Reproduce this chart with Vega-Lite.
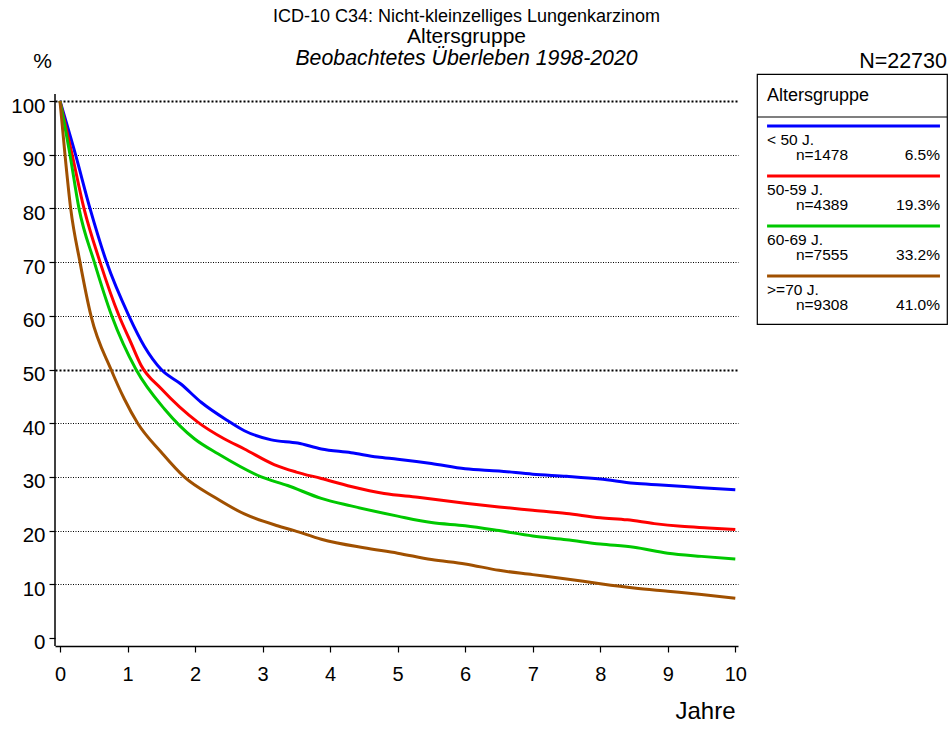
{
  "$schema": "https://vega.github.io/schema/vega-lite/v6.json",
  "background": "white",
  "padding": {"left": 10, "top": 7, "right": 3, "bottom": 5},
  "title": {
    "text": "ICD-10 C34: Nicht-kleinzelliges Lungenkarzinom",
    "subtitle": "Altersgruppe",
    "fontSize": 18,
    "subtitleFontSize": 21,
    "fontWeight": "normal",
    "color": "black",
    "subtitleColor": "black",
    "subtitlePadding": 0,
    "anchor": "middle",
    "dx": -13,
    "offset": 1
  },
  "spacing": 19,
  "bounds": "flush",
  "resolve": {"scale": {"x": "independent", "y": "independent", "color": "independent"}},
  "hconcat": [
    {
      "width": 683,
      "height": 572,
      "title": {
        "text": "Beobachtetes Überleben 1998-2020",
        "fontStyle": "italic",
        "fontSize": 21.3,
        "fontWeight": "normal",
        "color": "black",
        "anchor": "middle",
        "frame": "group",
        "dx": 70,
        "offset": -19
      },
      "layer": [
        {
          "data": {"values": [{"Jahre": 10, "Ueberleben": 0}]},
          "mark": {"type": "rule", "color": "black", "strokeWidth": 1.5},
          "encoding": {
            "x": {"datum": -0.074, "type": "quantitative"},
            "y": {"datum": -1.49, "type": "quantitative"},
            "y2": {"datum": 101.3}
          }
        },
        {
          "data": {
            "values": [
              {"Gruppe": "< 50 J.", "Jahre": 0, "Ueberleben": 100},
              {"Gruppe": "< 50 J.", "Jahre": 0.23, "Ueberleben": 90},
              {"Gruppe": "< 50 J.", "Jahre": 0.444, "Ueberleben": 80},
              {"Gruppe": "< 50 J.", "Jahre": 0.69, "Ueberleben": 70},
              {"Gruppe": "< 50 J.", "Jahre": 1.02, "Ueberleben": 60},
              {"Gruppe": "< 50 J.", "Jahre": 1.25, "Ueberleben": 54.3},
              {"Gruppe": "< 50 J.", "Jahre": 1.5, "Ueberleben": 50},
              {"Gruppe": "< 50 J.", "Jahre": 1.79, "Ueberleben": 47.3},
              {"Gruppe": "< 50 J.", "Jahre": 2.09, "Ueberleben": 43.9},
              {"Gruppe": "< 50 J.", "Jahre": 2.48, "Ueberleben": 40.5},
              {"Gruppe": "< 50 J.", "Jahre": 2.73, "Ueberleben": 38.6},
              {"Gruppe": "< 50 J.", "Jahre": 3.13, "Ueberleben": 36.9},
              {"Gruppe": "< 50 J.", "Jahre": 3.52, "Ueberleben": 36.3},
              {"Gruppe": "< 50 J.", "Jahre": 3.87, "Ueberleben": 35.2},
              {"Gruppe": "< 50 J.", "Jahre": 4.31, "Ueberleben": 34.5},
              {"Gruppe": "< 50 J.", "Jahre": 4.7, "Ueberleben": 33.7},
              {"Gruppe": "< 50 J.", "Jahre": 5.0, "Ueberleben": 33.3},
              {"Gruppe": "< 50 J.", "Jahre": 5.5, "Ueberleben": 32.5},
              {"Gruppe": "< 50 J.", "Jahre": 6.0, "Ueberleben": 31.5},
              {"Gruppe": "< 50 J.", "Jahre": 6.5, "Ueberleben": 31.1},
              {"Gruppe": "< 50 J.", "Jahre": 7.0, "Ueberleben": 30.5},
              {"Gruppe": "< 50 J.", "Jahre": 7.5, "Ueberleben": 30.1},
              {"Gruppe": "< 50 J.", "Jahre": 8.0, "Ueberleben": 29.6},
              {"Gruppe": "< 50 J.", "Jahre": 8.5, "Ueberleben": 28.8},
              {"Gruppe": "< 50 J.", "Jahre": 8.9, "Ueberleben": 28.5},
              {"Gruppe": "< 50 J.", "Jahre": 9.5, "Ueberleben": 28.0},
              {"Gruppe": "< 50 J.", "Jahre": 10, "Ueberleben": 27.6},
              {"Gruppe": "50-59 J.", "Jahre": 0, "Ueberleben": 100},
              {"Gruppe": "50-59 J.", "Jahre": 0.18, "Ueberleben": 90},
              {"Gruppe": "50-59 J.", "Jahre": 0.355, "Ueberleben": 80},
              {"Gruppe": "50-59 J.", "Jahre": 0.593, "Ueberleben": 70},
              {"Gruppe": "50-59 J.", "Jahre": 0.874, "Ueberleben": 60},
              {"Gruppe": "50-59 J.", "Jahre": 1.05, "Ueberleben": 55},
              {"Gruppe": "50-59 J.", "Jahre": 1.2, "Ueberleben": 50.8},
              {"Gruppe": "50-59 J.", "Jahre": 1.5, "Ueberleben": 46.4},
              {"Gruppe": "50-59 J.", "Jahre": 2.04, "Ueberleben": 40.2},
              {"Gruppe": "50-59 J.", "Jahre": 2.43, "Ueberleben": 37.1},
              {"Gruppe": "50-59 J.", "Jahre": 2.73, "Ueberleben": 35.2},
              {"Gruppe": "50-59 J.", "Jahre": 3.17, "Ueberleben": 32.3},
              {"Gruppe": "50-59 J.", "Jahre": 3.5, "Ueberleben": 30.9},
              {"Gruppe": "50-59 J.", "Jahre": 3.87, "Ueberleben": 29.7},
              {"Gruppe": "50-59 J.", "Jahre": 4.31, "Ueberleben": 28.2},
              {"Gruppe": "50-59 J.", "Jahre": 4.8, "Ueberleben": 26.9},
              {"Gruppe": "50-59 J.", "Jahre": 5.3, "Ueberleben": 26.2},
              {"Gruppe": "50-59 J.", "Jahre": 6.0, "Ueberleben": 25.1},
              {"Gruppe": "50-59 J.", "Jahre": 6.5, "Ueberleben": 24.4},
              {"Gruppe": "50-59 J.", "Jahre": 7.0, "Ueberleben": 23.8},
              {"Gruppe": "50-59 J.", "Jahre": 7.5, "Ueberleben": 23.2},
              {"Gruppe": "50-59 J.", "Jahre": 8.0, "Ueberleben": 22.4},
              {"Gruppe": "50-59 J.", "Jahre": 8.4, "Ueberleben": 22.0},
              {"Gruppe": "50-59 J.", "Jahre": 8.8, "Ueberleben": 21.3},
              {"Gruppe": "50-59 J.", "Jahre": 9.2, "Ueberleben": 20.8},
              {"Gruppe": "50-59 J.", "Jahre": 9.6, "Ueberleben": 20.5},
              {"Gruppe": "50-59 J.", "Jahre": 10, "Ueberleben": 20.2},
              {"Gruppe": "60-69 J.", "Jahre": 0, "Ueberleben": 100},
              {"Gruppe": "60-69 J.", "Jahre": 0.148, "Ueberleben": 90},
              {"Gruppe": "60-69 J.", "Jahre": 0.281, "Ueberleben": 80},
              {"Gruppe": "60-69 J.", "Jahre": 0.508, "Ueberleben": 70},
              {"Gruppe": "60-69 J.", "Jahre": 0.766, "Ueberleben": 60},
              {"Gruppe": "60-69 J.", "Jahre": 1.126, "Ueberleben": 50},
              {"Gruppe": "60-69 J.", "Jahre": 1.55, "Ueberleben": 42.6},
              {"Gruppe": "60-69 J.", "Jahre": 1.99, "Ueberleben": 37.1},
              {"Gruppe": "60-69 J.", "Jahre": 2.34, "Ueberleben": 34.3},
              {"Gruppe": "60-69 J.", "Jahre": 2.98, "Ueberleben": 30},
              {"Gruppe": "60-69 J.", "Jahre": 3.37, "Ueberleben": 28.4},
              {"Gruppe": "60-69 J.", "Jahre": 3.87, "Ueberleben": 26.0},
              {"Gruppe": "60-69 J.", "Jahre": 4.31, "Ueberleben": 24.6},
              {"Gruppe": "60-69 J.", "Jahre": 5.0, "Ueberleben": 22.7},
              {"Gruppe": "60-69 J.", "Jahre": 5.5, "Ueberleben": 21.5},
              {"Gruppe": "60-69 J.", "Jahre": 6.0, "Ueberleben": 20.9},
              {"Gruppe": "60-69 J.", "Jahre": 6.5, "Ueberleben": 20.0},
              {"Gruppe": "60-69 J.", "Jahre": 7.0, "Ueberleben": 19.0},
              {"Gruppe": "60-69 J.", "Jahre": 7.5, "Ueberleben": 18.3},
              {"Gruppe": "60-69 J.", "Jahre": 8.0, "Ueberleben": 17.5},
              {"Gruppe": "60-69 J.", "Jahre": 8.5, "Ueberleben": 16.9},
              {"Gruppe": "60-69 J.", "Jahre": 9.0, "Ueberleben": 15.8},
              {"Gruppe": "60-69 J.", "Jahre": 9.5, "Ueberleben": 15.2},
              {"Gruppe": "60-69 J.", "Jahre": 10, "Ueberleben": 14.7},
              {"Gruppe": ">=70 J.", "Jahre": 0, "Ueberleben": 100},
              {"Gruppe": ">=70 J.", "Jahre": 0.074, "Ueberleben": 90},
              {"Gruppe": ">=70 J.", "Jahre": 0.158, "Ueberleben": 80},
              {"Gruppe": ">=70 J.", "Jahre": 0.296, "Ueberleben": 70},
              {"Gruppe": ">=70 J.", "Jahre": 0.459, "Ueberleben": 60},
              {"Gruppe": ">=70 J.", "Jahre": 0.756, "Ueberleben": 50},
              {"Gruppe": ">=70 J.", "Jahre": 0.953, "Ueberleben": 44.5},
              {"Gruppe": ">=70 J.", "Jahre": 1.15, "Ueberleben": 40},
              {"Gruppe": ">=70 J.", "Jahre": 1.5, "Ueberleben": 34.6},
              {"Gruppe": ">=70 J.", "Jahre": 1.84, "Ueberleben": 30},
              {"Gruppe": ">=70 J.", "Jahre": 2.29, "Ueberleben": 26.2},
              {"Gruppe": ">=70 J.", "Jahre": 2.73, "Ueberleben": 23.1},
              {"Gruppe": ">=70 J.", "Jahre": 3.22, "Ueberleben": 20.9},
              {"Gruppe": ">=70 J.", "Jahre": 3.47, "Ueberleben": 20},
              {"Gruppe": ">=70 J.", "Jahre": 3.87, "Ueberleben": 18.4},
              {"Gruppe": ">=70 J.", "Jahre": 4.5, "Ueberleben": 16.8},
              {"Gruppe": ">=70 J.", "Jahre": 5.0, "Ueberleben": 15.8},
              {"Gruppe": ">=70 J.", "Jahre": 5.5, "Ueberleben": 14.6},
              {"Gruppe": ">=70 J.", "Jahre": 6.0, "Ueberleben": 13.8},
              {"Gruppe": ">=70 J.", "Jahre": 6.5, "Ueberleben": 12.6},
              {"Gruppe": ">=70 J.", "Jahre": 7.0, "Ueberleben": 11.8},
              {"Gruppe": ">=70 J.", "Jahre": 7.5, "Ueberleben": 11.0},
              {"Gruppe": ">=70 J.", "Jahre": 8.0, "Ueberleben": 10.1},
              {"Gruppe": ">=70 J.", "Jahre": 8.5, "Ueberleben": 9.3},
              {"Gruppe": ">=70 J.", "Jahre": 9.0, "Ueberleben": 8.7},
              {"Gruppe": ">=70 J.", "Jahre": 9.5, "Ueberleben": 8.1},
              {"Gruppe": ">=70 J.", "Jahre": 10, "Ueberleben": 7.4}
            ]
          },
          "mark": {"type": "line", "strokeWidth": 3, "interpolate": "monotone"},
          "encoding": {
            "x": {
              "field": "Jahre",
              "type": "quantitative",
              "scale": {"domain": [-0.074, 10.04], "nice": false, "zero": false},
              "axis": {
                "values": [0, 0.25, 0.5, 0.75, 1, 1.25, 1.5, 1.75, 2, 2.25, 2.5, 2.75, 3, 3.25, 3.5, 3.75, 4, 4.25, 4.5, 4.75, 5, 5.25, 5.5, 5.75, 6, 6.25, 6.5, 6.75, 7, 7.25, 7.5, 7.75, 8, 8.25, 8.5, 8.75, 9, 9.25, 9.5, 9.75, 10],
                "labelExpr": "datum.value % 1 === 0 ? '' + datum.value : ''",
                "tickSize": {"condition": {"test": "datum.value % 1 === 0", "value": 6}, "value": 3.5},
                "grid": false,
                "domainColor": "black",
                "domainWidth": 1.5,
                "tickColor": "black",
                "tickWidth": 1.2,
                "labelFontSize": 20,
                "labelColor": "black",
                "labelPadding": 12,
                "labelFlush": false,
                "labelOverlap": false,
                "title": "Jahre",
                "titleFontSize": 24,
                "titleFontWeight": "normal",
                "titleColor": "black",
                "titleAlign": "right",
                "titleBaseline": "middle",
                "titleX": 680,
                "titleY": 65
              }
            },
            "y": {
              "field": "Ueberleben",
              "type": "quantitative",
              "scale": {"domain": [-1.49, 105.03], "nice": false, "zero": false},
              "axis": {
                "values": [0, 5, 10, 15, 20, 25, 30, 35, 40, 45, 50, 55, 60, 65, 70, 75, 80, 85, 90, 95, 100],
                "labelExpr": "datum.value % 10 === 0 ? '' + datum.value : ''",
                "tickSize": {"condition": {"test": "datum.value % 10 === 0", "value": 6}, "value": 3.5},
                "domain": false,
                "grid": true,
                "gridColor": "black",
                "gridDash": {"condition": {"test": "datum.value === 50 || datum.value === 100", "value": [2, 2]}, "value": [1, 1.5]},
                "gridWidth": {"condition": {"test": "datum.value === 50 || datum.value === 100", "value": 2}, "value": 1},
                "gridOpacity": {"condition": {"test": "datum.value % 10 === 0 && datum.value > 0", "value": 1}, "value": 0},
                "tickColor": "black",
                "tickWidth": 1.2,
                "labelFontSize": 20.5,
                "labelColor": "black",
                "labelPadding": 4,
                "labelOffset": 5,
                "labelFlush": false,
                "labelOverlap": false,
                "title": "%",
                "titleAngle": 0,
                "titleFontSize": 21,
                "titleFontWeight": "normal",
                "titleColor": "black",
                "titleAlign": "center",
                "titleBaseline": "middle",
                "titleX": -13,
                "titleY": -13
              }
            },
            "color": {
              "field": "Gruppe",
              "type": "nominal",
              "scale": {
                "domain": ["< 50 J.", "50-59 J.", "60-69 J.", ">=70 J."],
                "range": ["#0000ff", "#ff0000", "#00c800", "#a05000"]
              },
              "legend": null
            }
          }
        }
      ]
    },
    {
      "width": 190,
      "height": 250,
      "view": {"stroke": "black", "strokeWidth": 1.2},
      "title": {
        "text": "N=22730",
        "anchor": "end",
        "frame": "group",
        "fontSize": 21.5,
        "fontWeight": "normal",
        "color": "black",
        "offset": 2
      },
      "data": {
        "values": [
          {"Gruppe": "< 50 J.", "n": "n=1478", "Anteil": "6.5%"},
          {"Gruppe": "50-59 J.", "n": "n=4389", "Anteil": "19.3%"},
          {"Gruppe": "60-69 J.", "n": "n=7555", "Anteil": "33.2%"},
          {"Gruppe": ">=70 J.", "n": "n=9308", "Anteil": "41.0%"}
        ]
      },
      "layer": [
        {
          "data": {"values": [{"Kopf": "Altersgruppe"}]},
          "mark": {"type": "text", "align": "left", "baseline": "middle", "fontSize": 18, "color": "black", "yOffset": 22},
          "encoding": {
            "x": {"datum": 0.053, "type": "quantitative", "scale": {"domain": [0, 1], "nice": false, "zero": false}, "axis": null},
            "y": {"datum": "Kopf", "type": "nominal", "bandPosition": 0, "scale": {"type": "band", "domain": ["Kopf", "< 50 J.", "50-59 J.", "60-69 J.", ">=70 J."], "paddingInner": 0, "paddingOuter": 0}, "axis": null},
            "text": {"field": "Kopf"}
          }
        },
        {
          "data": {"values": [{"Kopf": "Altersgruppe"}]},
          "mark": {"type": "rule", "color": "black", "strokeWidth": 1.2, "yOffset": -7},
          "encoding": {
            "y": {"datum": "< 50 J.", "type": "nominal", "bandPosition": 0, "axis": null}
          }
        },
        {
          "mark": {"type": "rule", "strokeWidth": 3, "yOffset": 2},
          "encoding": {
            "x": {"datum": 0.053, "type": "quantitative"},
            "x2": {"datum": 0.963},
            "y": {"field": "Gruppe", "type": "nominal", "bandPosition": 0, "axis": null},
            "color": {
              "field": "Gruppe",
              "type": "nominal",
              "scale": {
                "domain": ["< 50 J.", "50-59 J.", "60-69 J.", ">=70 J."],
                "range": ["#0000ff", "#ff0000", "#00c800", "#a05000"]
              },
              "legend": null
            }
          }
        },
        {
          "mark": {"type": "text", "align": "left", "baseline": "middle", "fontSize": 15.5, "color": "black", "yOffset": 16},
          "encoding": {
            "x": {"datum": 0.053, "type": "quantitative"},
            "y": {"field": "Gruppe", "type": "nominal", "bandPosition": 0, "axis": null},
            "text": {"field": "Gruppe"}
          }
        },
        {
          "mark": {"type": "text", "align": "left", "baseline": "middle", "fontSize": 15.5, "color": "black", "yOffset": 31},
          "encoding": {
            "x": {"datum": 0.205, "type": "quantitative"},
            "y": {"field": "Gruppe", "type": "nominal", "bandPosition": 0, "axis": null},
            "text": {"field": "n"}
          }
        },
        {
          "mark": {"type": "text", "align": "right", "baseline": "middle", "fontSize": 15.5, "color": "black", "yOffset": 31},
          "encoding": {
            "x": {"datum": 0.963, "type": "quantitative"},
            "y": {"field": "Gruppe", "type": "nominal", "bandPosition": 0, "axis": null},
            "text": {"field": "Anteil"}
          }
        }
      ]
    }
  ],
  "config": {
    "font": "Liberation Sans",
    "view": {"stroke": null},
    "axis": {"labelFont": "Liberation Sans", "titleFont": "Liberation Sans"},
    "title": {"font": "Liberation Sans", "subtitleFont": "Liberation Sans"}
  }
}
